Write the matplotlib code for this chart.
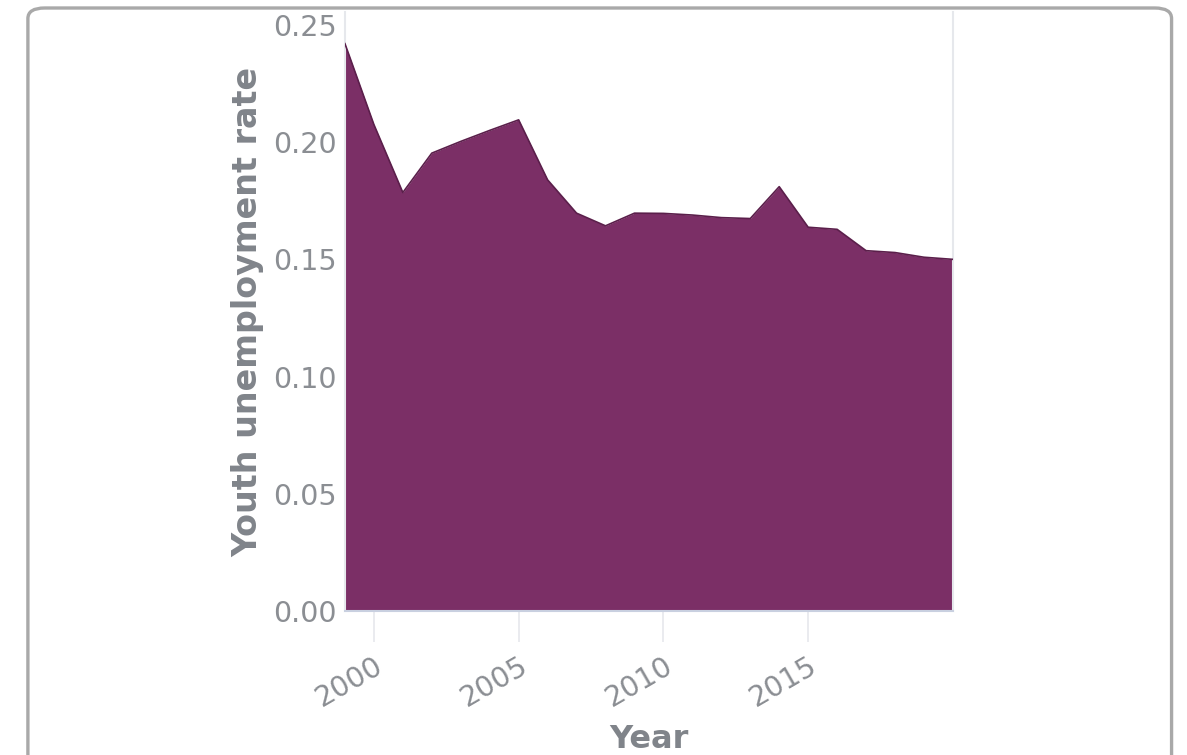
import matplotlib
matplotlib.use("Agg")
import matplotlib.pyplot as plt
from matplotlib.patches import FancyBboxPatch

# Youth unemployment rate by year
years = [1999, 2000, 2001, 2002, 2003, 2004, 2005, 2006, 2007, 2008, 2009,
         2010, 2011, 2012, 2013, 2014, 2015, 2016, 2017, 2018, 2019, 2020]
rate = [0.2420, 0.2075, 0.1785, 0.1953, 0.2003, 0.2050, 0.2095, 0.1839,
        0.1697, 0.1643, 0.1697, 0.1696, 0.1689, 0.1678, 0.1674, 0.1810,
        0.1637, 0.1628, 0.1537, 0.1529, 0.1509, 0.1500]
x_ticks = [2000, 2005, 2010, 2015]
y_ticks = [0.00, 0.05, 0.10, 0.15, 0.20, 0.25]

FILL = "#7b2f66"
EDGE = "#5b1f4b"
TICK_TXT = "#8b8e93"
LABEL_TXT = "#80848a"
GRID = "#e6e8ec"

plt.rcParams["font.family"] = ["DejaVu Sans"]

fig = plt.figure(figsize=(11.87, 7.55), dpi=100)
fig.patch.set_facecolor("white")

# rounded card frame around the chart
frame = FancyBboxPatch((0.0235, -0.06), 0.9635, 1.0494,
                       boxstyle="round,pad=0,rounding_size=0.014",
                       transform=fig.transFigure, facecolor="none",
                       edgecolor="#a9a9a9", linewidth=2.4, zorder=5)
fig.patches.append(frame)

ax = fig.add_axes([0.2906, 0.1907, 0.5122, 0.7934])
ax.set_facecolor("none")

ax.fill_between(years, rate, 0, color=FILL, linewidth=0, zorder=2)
ax.plot(years, rate, color=EDGE, linewidth=1.2, zorder=3)

ax.set_xlim(1999, 2020)
ax.set_ylim(0, 0.2555)

ax.set_xticks(x_ticks)
ax.set_xticklabels([str(t) for t in x_ticks], rotation=30, ha="right",
                   rotation_mode="anchor")
ax.set_yticks(y_ticks)
ax.set_yticklabels([f"{t:.2f}" for t in y_ticks])

ax.tick_params(axis="x", length=22, width=1.2, color=GRID, pad=7,
               labelsize=20.5, labelcolor=TICK_TXT)
ax.tick_params(axis="y", length=0, pad=6, labelsize=20.5,
               labelcolor=TICK_TXT)

ax.spines["top"].set_visible(False)
for side in ("left", "right"):
    ax.spines[side].set_color(GRID)
    ax.spines[side].set_linewidth(1.5)
ax.spines["bottom"].set_color("#c9d0e0")
ax.spines["bottom"].set_linewidth(1.5)

ax.set_xlabel("Year", fontsize=23, fontweight="bold", color=LABEL_TXT,
              labelpad=9)
ax.set_ylabel("Youth unemployment rate", fontsize=24, fontweight="bold",
              color=LABEL_TXT, labelpad=6)

fig.savefig("out.png", dpi=100)
